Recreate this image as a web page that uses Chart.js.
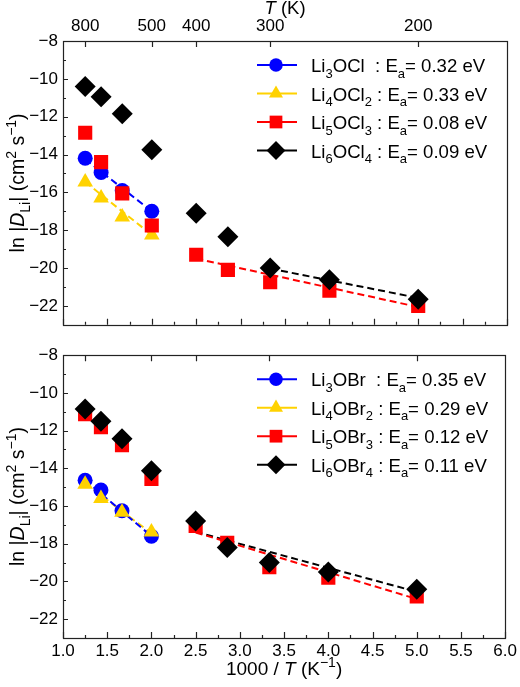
<!DOCTYPE html>
<html>
<head>
<meta charset="utf-8">
<script src="https://cdn.jsdelivr.net/npm/chart.js@4.4.0/dist/chart.umd.min.js"></script>
<style>
    html, body { margin: 0; padding: 0; background: #fff; }
    #wrap { position: relative; width: 520px; height: 687px; }
    canvas { position: absolute; left: 0; }
    #topChart { top: 0; }
    #bottomChart { top: 340px; }
</style>
</head>
<body>
<div id="wrap">
    <canvas id="topChart" width="520" height="340"></canvas>
    <canvas id="bottomChart" width="520" height="347"></canvas>
</div>
<script>
// 1000/T positions of the measured temperatures (K^-1)
const invT = [1.25, 1.429, 1.667, 2.0, 2.5, 2.857, 3.333, 4.0, 5.0];
// top axis labels, in K
const tempTicks = [800, 500, 400, 300, 200];
const yTicks = [-22, -20, -18, -16, -14, -12, -10, -8];

// chlorides, ln|D_Li|
const li3ocl = [-14.2, -14.95, -15.9, -17.0];
const li4ocl2 = [-15.45, -16.3, -17.3, -18.25];
const li5ocl3 = [-12.85, -14.4, -16.05, -17.75, -19.3, -20.1, -20.75, -21.2, -22.0];
const li6ocl4 = [-10.4, -10.95, -11.85, -13.75, -17.1, -18.35, -20.0, -20.62, -21.65];

// bromides, ln|D_Li|
const li3obr = [-14.63, -15.15, -16.25, -17.6];
const li4obr2 = [-14.85, -15.6, -16.33, -17.38];
const li5obr3 = [-11.13, -11.82, -12.77, -14.56, -17.05, -17.95, -19.25, -19.8, -20.8];
const li6obr4 = [-10.86, -11.5, -12.43, -14.13, -16.8, -18.2, -19.0, -19.5, -20.42];

// Arrhenius fit lines (end points)
const fitLowX = [1.25, 2.0];
const fitHighX = [2.5, 5.0];
const fitRoomX = [3.333, 5.0];
const fitLi3ocl = [-14.25, -17.0];
const fitLi4ocl2 = [-15.45, -18.25];
const fitLi5ocl3 = [-19.5, -22.06];
const fitLi6ocl4 = [-20.03, -21.58];
const fitLi3obr = [-14.63, -17.6];
const fitLi4obr2 = [-14.8, -17.45];
const fitLi5obr3 = [-17.4, -20.93];
const fitLi6obr4 = [-17.37, -20.55];

const oclLabels = ["Li_3OCl  : E_a= 0.32 eV", "Li_4OCl_2 : E_a= 0.33 eV", "Li_5OCl_3 : E_a= 0.08 eV", "Li_6OCl_4 : E_a= 0.09 eV"];
const obrLabels = ["Li_3OBr  : E_a= 0.35 eV", "Li_4OBr_2 : E_a= 0.29 eV", "Li_5OBr_3 : E_a= 0.12 eV", "Li_6OBr_4 : E_a= 0.11 eV"];

const FONT = '"Liberation Sans", Arial, sans-serif';
const series = [
    { color: "#0000ff", style: "circle", radius: 7.5 },
    { color: "#ffd200", style: "triangle", radius: 9 },
    { color: "#ff0000", style: "rect", radius: 10 },
    { color: "#000000", style: "rectRot", radius: 10.5 }
];

const toPoints = (xs, ys) => ys.map((y, i) => ({ x: xs[i], y }));

const markerSet = (ys, s, order) => ({
    data: toPoints(invT, ys),
    showLine: false,
    pointStyle: s.style,
    pointRadius: s.radius,
    pointBackgroundColor: s.color,
    pointBorderColor: s.color,
    pointBorderWidth: 0,
    order
});

const fitSet = (xs, ys, s) => ({
    data: toPoints(xs, ys),
    showLine: true,
    borderColor: s.color,
    borderWidth: 2,
    borderDash: [7, 4],
    pointRadius: 0,
    order: 10
});

// split "Li_3OCl" style strings into normal / subscript parts
const parseLabel = str =>
    str.split(/_(.)/).map((t, i) => [t, i % 2 ? "sub" : ""]).filter(p => p[0]);

const drawRich = (ctx, parts, x, y, size, align) => {
    const fontFor = m =>
        (m === "i" ? "italic " : "") +
        (m === "sub" || m === "sup" ? Math.round(size * 0.72) : size) + "px " + FONT;
    let w = 0;
    parts.forEach(([t, m]) => {
        ctx.font = fontFor(m);
        w += ctx.measureText(t).width;
    });
    let cx = align === "center" ? x - w / 2 : x;
    ctx.textAlign = "left";
    ctx.textBaseline = "alphabetic";
    ctx.fillStyle = "#000";
    parts.forEach(([t, m]) => {
        ctx.font = fontFor(m);
        const dy = m === "sub" ? size * 0.3 : m === "sup" ? -size * 0.42 : 0;
        ctx.fillText(t, cx, y + dy);
        cx += ctx.measureText(t).width;
    });
};

const frame = {
    id: "frame",
    beforeDatasetsDraw(chart) {
        const { ctx, chartArea: a, scales } = chart;
        ctx.save();
        ctx.strokeStyle = "#222";
        ctx.lineWidth = 1.2;
        ctx.beginPath();
        // bottom ticks, every 0.25
        for (let v = 1; v <= 6.001; v += 0.25) {
            const px = Math.round(scales.x.getPixelForValue(v)) + 0.5;
            const len = Math.abs(v * 2 - Math.round(v * 2)) < 1e-6 ? 6 : 3;
            ctx.moveTo(px, a.bottom);
            ctx.lineTo(px, a.bottom - len);
        }
        // top ticks at temperatures
        tempTicks.forEach(t => {
            const px = Math.round(scales.x2.getPixelForValue(1000 / t)) + 0.5;
            ctx.moveTo(px, a.top);
            ctx.lineTo(px, a.top + 6);
        });
        // left ticks, every 1
        for (let v = -22; v <= -9; v++) {
            const py = Math.round(scales.y.getPixelForValue(v)) + 0.5;
            ctx.moveTo(a.left, py);
            ctx.lineTo(a.left + (v % 2 === 0 ? 5 : 3), py);
        }
        ctx.stroke();
        ctx.strokeRect(Math.round(a.left) + 0.5, Math.round(a.top) + 0.5,
            Math.round(a.right - a.left), Math.round(a.bottom - a.top));
        ctx.restore();
    },
    afterDraw(chart) {
        const { ctx, chartArea: a } = chart;
        const opts = chart.options.plugins.frame;
        ctx.save();
        // legend
        opts.labels.forEach((label, i) => {
            const s = series[i];
            const y = a.top + 24 + i * 28.5;
            ctx.strokeStyle = s.color;
            ctx.lineWidth = 2;
            ctx.setLineDash([]);
            ctx.beginPath();
            ctx.moveTo(257, y);
            ctx.lineTo(297, y);
            ctx.stroke();
            ctx.fillStyle = s.color;
            Chart.helpers.drawPoint(ctx, {
                pointStyle: s.style, radius: s.radius * 0.9, borderWidth: 0, rotation: 0
            }, 276, y);
            drawRich(ctx, parseLabel(label), 311, y + 7, 18.6, "left");
        });
        // y title
        ctx.save();
        ctx.translate(24, (a.top + a.bottom) / 2);
        ctx.rotate(-Math.PI / 2);
        drawRich(ctx, [["ln |", ""], ["D", "i"], ["Li", "sub"], ["| (cm", ""], ["2", "sup"],
            [" s", ""], ["\u22121", "sup"], [")", ""]], 0, 0, 19.5, "center");
        ctx.restore();
        if (opts.topTitle) {
            drawRich(ctx, [["T", "i"], [" (K)", ""]], (a.left + a.right) / 2, 14, 18.5, "center");
        }
        if (opts.bottomTitle) {
            drawRich(ctx, [["1000 / ", ""], ["T", "i"], [" (K", ""], ["\u22121", "sup"], [")", ""]],
                (a.left + a.right) / 2, 335, 19, "center");
        }
        ctx.restore();
    }
};

const tickFont = { family: FONT, size: 17 };
const noGrid = { display: false, drawTicks: false };

const makeScales = (topLabels, bottomLabels, topH, bottomH) => ({
    x: {
        type: "linear", position: "bottom", min: 1, max: 6,
        grid: noGrid, border: { display: false },
        ticks: {
            display: bottomLabels, stepSize: 0.5, padding: 3, font: tickFont, color: "#000",
            maxRotation: 0, autoSkip: false, callback: v => v.toFixed(1)
        },
        afterFit: s => { s.height = bottomH; }
    },
    x2: {
        type: "linear", position: "top", min: 1, max: 6,
        grid: noGrid, border: { display: false },
        afterBuildTicks: s => { s.ticks = tempTicks.map(t => ({ value: 1000 / t })); },
        ticks: {
            display: topLabels, padding: 4, font: tickFont, color: "#000",
            maxRotation: 0, autoSkip: false, callback: (v, i) => String(tempTicks[i])
        },
        afterFit: s => { s.height = topH; }
    },
    y: {
        type: "linear", min: -23, max: -8,
        grid: noGrid, border: { display: false },
        afterBuildTicks: s => { s.ticks = yTicks.map(v => ({ value: v })); },
        ticks: {
            padding: 5, font: tickFont, color: "#000",
            callback: v => (v < 0 ? "\u2212" : "") + Math.abs(v)
        },
        afterFit: s => { s.width = 63; }
    }
});

const makeChart = (id, sets, fits, labels, top) => {
    const datasets = [
        ...fits,
        markerSet(sets[0], series[0], 4),
        markerSet(sets[1], series[1], 3),
        markerSet(sets[2], series[2], 2),
        markerSet(sets[3], series[3], 1)
    ];
    return new Chart(document.getElementById(id), {
        type: "scatter",
        data: { datasets },
        options: {
            responsive: false,
            animation: false,
            events: [],
            layout: { padding: { left: 0, right: 13, top: 0, bottom: 0 } },
            scales: top ? makeScales(true, false, 41, 11) : makeScales(false, true, 10, 49),
            plugins: {
                legend: { display: false },
                tooltip: { enabled: false },
                frame: { labels, topTitle: top, bottomTitle: !top }
            }
        },
        plugins: [frame]
    });
};

makeChart("topChart", [li3ocl, li4ocl2, li5ocl3, li6ocl4], [
    fitSet(fitLowX, fitLi3ocl, series[0]),
    fitSet(fitLowX, fitLi4ocl2, series[1]),
    fitSet(fitHighX, fitLi5ocl3, series[2]),
    fitSet(fitRoomX, fitLi6ocl4, series[3])
], oclLabels, true);

makeChart("bottomChart", [li3obr, li4obr2, li5obr3, li6obr4], [
    fitSet(fitLowX, fitLi3obr, series[0]),
    fitSet(fitLowX, fitLi4obr2, series[1]),
    fitSet(fitHighX, fitLi5obr3, series[2]),
    fitSet(fitHighX, fitLi6obr4, series[3])
], obrLabels, false);
</script>
</body>
</html>
